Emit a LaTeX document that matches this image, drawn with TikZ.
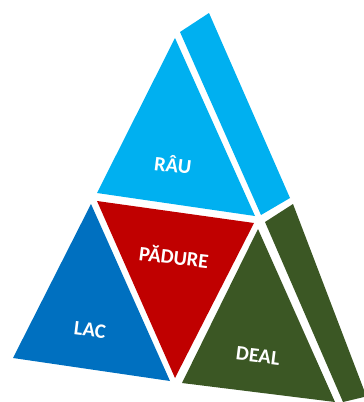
\documentclass[tikz,border=0pt]{standalone}
\usepackage{fontspec}
\setmainfont{Carlito}
\usepackage{xcolor}

\definecolor{rauBlue}{HTML}{00B0F0}
\definecolor{lacBlue}{HTML}{0070C0}
\definecolor{padureRed}{HTML}{C00000}
\definecolor{dealGreen}{HTML}{3B5724}

\begin{document}
\begin{tikzpicture}[
    x=1pt, y=-1pt,
    face/.style={draw=none},
    label/.style={
        text=white,
        font=\fontsize{20.5}{24}\selectfont\bfseries,
        rotate=-7,
        inner sep=0pt
    }
]
\useasboundingbox (0,0) rectangle (364,402);

% =========================================================
% Top: river
% =========================================================
\fill[face, rauBlue] (175,38) -- (97,193) -- (255,216) -- cycle;
\fill[face, rauBlue] (180,32) -- (209,13) -- (290,198) -- (261,215) -- cycle;
\node[label] (rau) at (173,164) {RÂU};

% =========================================================
% Middle: forest
% =========================================================
\fill[face, padureRed] (97,201) -- (254,223) -- (175,378) -- cycle;
\node[label] (padure) at (174,256) {PĂDURE};

% =========================================================
% Left: lake
% =========================================================
\fill[face, lacBlue] (91,204) -- (13,358) -- (170,381) -- cycle;
\node[label] (lac) at (90,330) {LAC};

% =========================================================
% Right: hill
% =========================================================
\fill[face, dealGreen] (258,229) -- (182,383) -- (335,402) -- cycle;
\fill[face, dealGreen] (265,222) -- (293,204) -- (364,390) -- (364,397) -- (343,402) -- cycle;
\node[label] (deal) at (258,356) {DEAL};

\end{tikzpicture}
\end{document}
